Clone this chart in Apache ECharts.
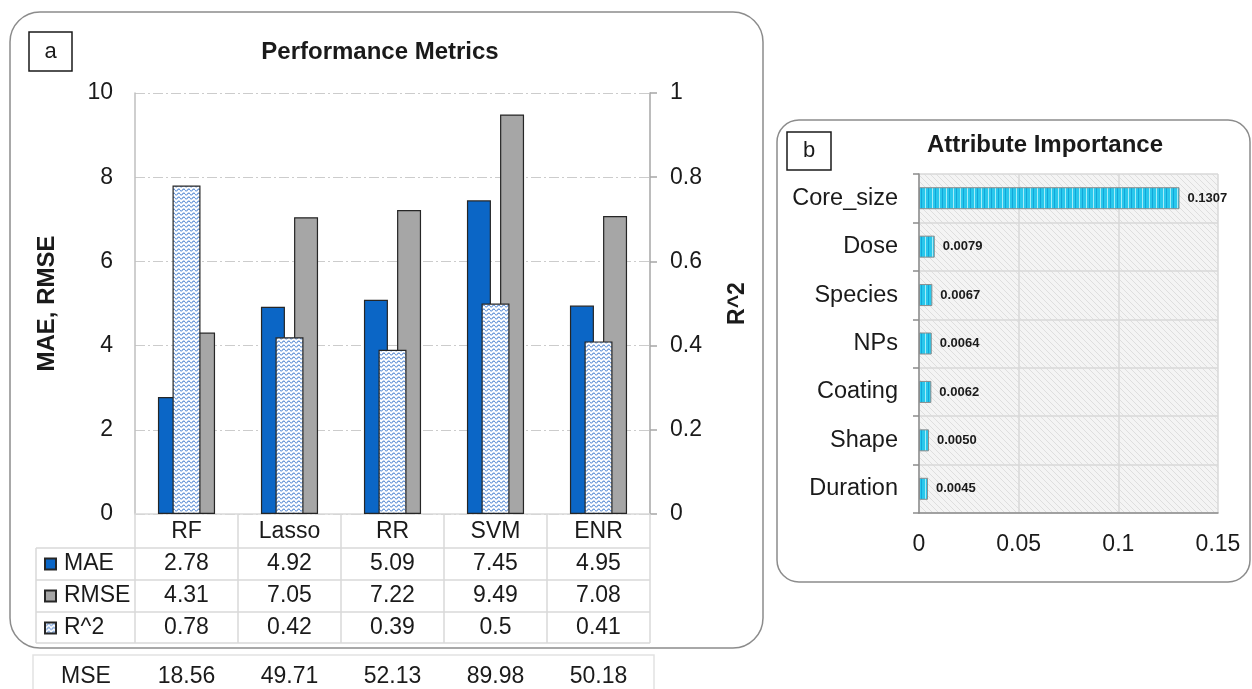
<!DOCTYPE html>
<html>
<head>
<meta charset="utf-8">
<script src="https://cdn.jsdelivr.net/npm/echarts@6/dist/echarts.min.js"></script>
<style>
	html, body { margin: 0; padding: 0; background: #fff; }
	#main { width: 1252px; height: 689px; }
</style>
</head>
<body>
<div id="main"></div>
<script>
	// panel a data
	var models = [ 'RF', 'Lasso', 'RR', 'SVM', 'ENR' ];
	var mae = [ 2.78, 4.92, 5.09, 7.45, 4.95 ];
	var rmse = [ 4.31, 7.05, 7.22, 9.49, 7.08 ];
	var r2 = [ 0.78, 0.42, 0.39, 0.5, 0.41 ];
	var mse = [ 18.56, 49.71, 52.13, 89.98, 50.18 ];

	// panel b data
	var attrs = [ 'Core_size', 'Dose', 'Species', 'NPs', 'Coating', 'Shape', 'Duration' ];
	var importance = [ 0.1307, 0.0079, 0.0067, 0.0064, 0.0062, 0.0050, 0.0045 ];

	var FONT = '"Liberation Sans", Arial, sans-serif';
	var INK = '#1a1a1a';
	var LINE = '#d9d9d9';

	// fill patterns
	function wavePattern() {
		var c = document.createElement('canvas');
		c.width = 5;
		c.height = 4;
		var g = c.getContext('2d');
		g.fillStyle = '#ffffff';
		g.fillRect(0, 0, 5, 4);
		g.strokeStyle = '#5f90d6';
		g.lineWidth = 1.1;
		g.beginPath();
		for (var x = 0; x <= 5; x += 0.5) {
			var y = 2 + Math.sin(x / 5 * Math.PI * 2) * 1;
			if (x === 0) g.moveTo(x, y);
			else g.lineTo(x, y);
		}
		g.stroke();
		return c;
	}
	function stripePattern() {
		var c = document.createElement('canvas');
		c.width = 7;
		c.height = 2;
		var g = c.getContext('2d');
		g.fillStyle = '#29c8ec';
		g.fillRect(0, 0, 7, 2);
		g.fillStyle = '#a6ecf9';
		g.fillRect(1, 0, 1, 2);
		g.fillStyle = '#12a6da';
		g.fillRect(4, 0, 1, 2);
		return c;
	}
	function hatchPattern() {
		var c = document.createElement('canvas');
		c.width = 6;
		c.height = 6;
		var g = c.getContext('2d');
		g.fillStyle = '#f4f4f4';
		g.fillRect(0, 0, 6, 6);
		g.strokeStyle = '#dedede';
		g.lineWidth = 1;
		g.beginPath();
		g.moveTo(0, 0); g.lineTo(6, 6);
		g.moveTo(5, -1); g.lineTo(7, 1);
		g.moveTo(-1, 5); g.lineTo(1, 7);
		g.stroke();
		return c;
	}

	var waveFill = { image: wavePattern(), repeat: 'repeat' };
	var stripeFill = { image: stripePattern(), repeat: 'repeat' };
	var hatchFill = { image: hatchPattern(), repeat: 'repeat' };

	// table under panel a is built from the category labels
	function tableLabel(v, i) {
		return '{c|' + v + '}\n{v|' + mae[i] + '}\n{v|' + rmse[i] + '}\n{v|' + r2[i] + '}\n{m|' + mse[i] + '}';
	}

	var myChart = echarts.init(document.getElementById('main'));

	var option = {
		animation : false,
		textStyle : { fontFamily : FONT },
		grid : [ {
			left : 135, top : 93, width : 515, height : 421,
			outerBoundsMode : 'none'
		}, {
			left : 919, top : 174, width : 299, height : 339,
			show : true, backgroundColor : hatchFill, borderWidth : 0,
			outerBoundsMode : 'none'
		} ],
		legend : {
			data : [ 'MAE', 'RMSE', 'R^2' ],
			orient : 'vertical',
			left : 44, top : 548,
			padding : 0, itemGap : 0,
			itemWidth : 11, itemHeight : 11,
			icon : 'rect',
			selectedMode : false,
			textStyle : { fontSize : 23, lineHeight : 32, color : INK, padding : [ 0, 0, 0, 3 ] }
		},
		xAxis : [ {
			type : 'category', gridIndex : 0, data : models,
			axisLine : { lineStyle : { color : LINE, width : 1.5 } },
			axisTick : { show : true, length : 129, lineStyle : { color : LINE, width : 1.5 } },
			axisLabel : {
				interval : 0, margin : 2, color : INK,
				formatter : tableLabel,
				rich : {
					c : { fontSize : 23, lineHeight : 32, color : INK, fontFamily : FONT },
					v : { fontSize : 23, lineHeight : 32, color : INK, fontFamily : FONT },
					m : { fontSize : 23, lineHeight : 66, color : INK, fontFamily : FONT }
				}
			}
		}, {
			// hidden axis so R^2 bars overlap the pair
			type : 'category', gridIndex : 0, data : models, show : false
		}, {
			type : 'value', gridIndex : 1, min : 0, max : 0.15, interval : 0.05,
			axisLine : { show : true, lineStyle : { color : '#8c8c8c', width : 1.5 } },
			axisTick : { show : false },
			splitLine : { lineStyle : { color : LINE, width : 1.5 } },
			axisLabel : { fontSize : 23, margin : 20, color : INK }
		} ],
		yAxis : [ {
			type : 'value', gridIndex : 0, min : 0, max : 10, interval : 2,
			name : 'MAE, RMSE', nameLocation : 'middle', nameGap : 76,
			nameTextStyle : { fontSize : 24, fontWeight : 'bold', color : INK },
			axisLine : { show : true, lineStyle : { color : '#bfbfbf', width : 1.5 } },
			axisTick : { show : false },
			splitLine : { lineStyle : { color : '#cccccc', width : 1, type : [ 10, 3, 2, 3 ] } },
			axisLabel : { fontSize : 23, margin : 22, color : INK }
		}, {
			type : 'value', gridIndex : 0, min : 0, max : 1, interval : 0.2, position : 'right',
			name : 'R^2', nameLocation : 'middle', nameGap : 76,
			nameTextStyle : { fontSize : 23, fontWeight : 'bold', color : INK },
			axisLine : { show : true, lineStyle : { color : '#a6a6a6', width : 1.5 } },
			axisTick : { show : true, length : 7, lineStyle : { color : '#a6a6a6', width : 1.5 } },
			splitLine : { show : false },
			axisLabel : { fontSize : 23, margin : 20, color : INK }
		}, {
			type : 'category', gridIndex : 1, data : attrs, inverse : true,
			axisLine : { lineStyle : { color : '#8c8c8c', width : 1.5 } },
			axisTick : { show : true, length : 6, lineStyle : { color : '#8c8c8c', width : 1.5 } },
			splitLine : { show : true, lineStyle : { color : LINE, width : 1.5 } },
			axisLabel : { fontSize : 23.5, margin : 21, color : INK, interval : 0 }
		} ],
		series : [ {
			name : 'MAE', type : 'bar', xAxisIndex : 0, yAxisIndex : 0, data : mae,
			barWidth : 24, barGap : '38%', z : 2,
			itemStyle : { color : '#0b66c6', borderColor : '#262626', borderWidth : 1.2 }
		}, {
			name : 'RMSE', type : 'bar', xAxisIndex : 0, yAxisIndex : 0, data : rmse,
			barWidth : 24, barGap : '38%', z : 2,
			itemStyle : { color : '#a6a6a6', borderColor : '#262626', borderWidth : 1.2 }
		}, {
			name : 'R^2', type : 'bar', xAxisIndex : 1, yAxisIndex : 1, data : r2,
			barWidth : 28, z : 3,
			itemStyle : { color : waveFill, borderColor : '#262626', borderWidth : 1.2 }
		}, {
			name : 'Importance', type : 'bar', xAxisIndex : 2, yAxisIndex : 2, data : importance,
			barWidth : 22,
			itemStyle : { color : stripeFill, borderColor : '#8c8c8c', borderWidth : 1 },
			label : {
				show : true, position : 'right', distance : 8,
				fontSize : 13, fontWeight : 'bold', color : INK,
				formatter : function(p) {
					return p.value.toFixed(4);
				}
			}
		} ],
		graphic : [
			// panel frames
			{ type : 'rect', silent : true, shape : { x : 10, y : 12, width : 753, height : 636, r : 30 },
				style : { fill : 'none', stroke : '#8c8c8c', lineWidth : 1.5 } },
			{ type : 'rect', silent : true, shape : { x : 777, y : 120, width : 473, height : 462, r : 22 },
				style : { fill : 'none', stroke : '#8c8c8c', lineWidth : 1.5 } },
			// letter boxes
			{ type : 'rect', silent : true, shape : { x : 29, y : 32, width : 43, height : 39 },
				style : { fill : '#fff', stroke : '#1a1a1a', lineWidth : 1.5 } },
			{ type : 'text', silent : true, x : 50.5, y : 51.5,
				style : { text : 'a', font : '22px ' + FONT, fill : INK, textAlign : 'center', textVerticalAlign : 'middle' } },
			{ type : 'rect', silent : true, shape : { x : 787, y : 132, width : 44, height : 38 },
				style : { fill : '#fff', stroke : '#1a1a1a', lineWidth : 1.5 } },
			{ type : 'text', silent : true, x : 809, y : 151,
				style : { text : 'b', font : '22px ' + FONT, fill : INK, textAlign : 'center', textVerticalAlign : 'middle' } },
			// titles
			{ type : 'text', silent : true, x : 380, y : 52,
				style : { text : 'Performance Metrics', font : 'bold 24px ' + FONT, fill : INK, textAlign : 'center', textVerticalAlign : 'middle' } },
			{ type : 'text', silent : true, x : 1045, y : 145,
				style : { text : 'Attribute Importance', font : 'bold 24px ' + FONT, fill : INK, textAlign : 'center', textVerticalAlign : 'middle' } },
			// table rulings
			{ type : 'line', silent : true, shape : { x1 : 36, y1 : 548, x2 : 650, y2 : 548 }, style : { stroke : LINE, lineWidth : 1.5 } },
			{ type : 'line', silent : true, shape : { x1 : 36, y1 : 580, x2 : 650, y2 : 580 }, style : { stroke : LINE, lineWidth : 1.5 } },
			{ type : 'line', silent : true, shape : { x1 : 36, y1 : 612, x2 : 650, y2 : 612 }, style : { stroke : LINE, lineWidth : 1.5 } },
			{ type : 'line', silent : true, shape : { x1 : 36, y1 : 643, x2 : 650, y2 : 643 }, style : { stroke : LINE, lineWidth : 1.5 } },
			{ type : 'line', silent : true, shape : { x1 : 36, y1 : 548, x2 : 36, y2 : 643 }, style : { stroke : LINE, lineWidth : 1.5 } },
			// MSE box
			{ type : 'polyline', silent : true, shape : { points : [ [ 33, 689 ], [ 33, 655 ], [ 654, 655 ], [ 654, 689 ] ] },
				style : { fill : 'none', stroke : '#e2e2e2', lineWidth : 1.5 } },
			{ type : 'text', silent : true, x : 86, y : 677,
				style : { text : 'MSE', font : '23px ' + FONT, fill : INK, textAlign : 'center', textVerticalAlign : 'middle' } }
		]
	};

	myChart.setOption(option);
</script>
</body>
</html>
